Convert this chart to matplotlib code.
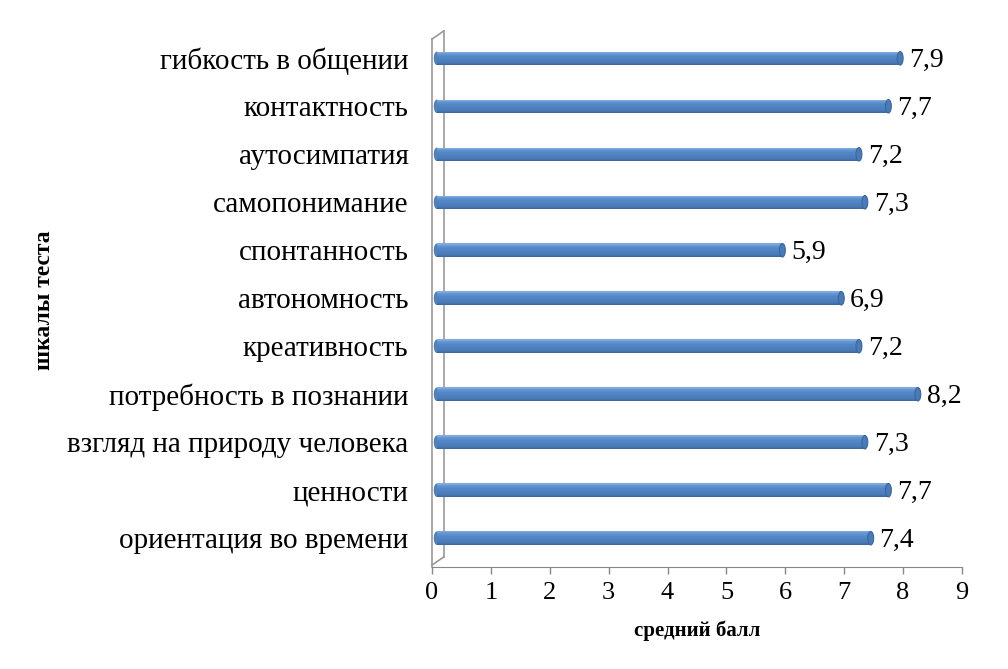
import matplotlib
matplotlib.use("Agg")
import matplotlib.pyplot as plt
import numpy as np
from matplotlib.patches import Ellipse
from matplotlib.colors import to_rgb

# ==============================
#  DONNÉES
# ==============================
categories = [
    "ориентация во времени",
    "ценности",
    "взгляд на природу человека",
    "потребность в познании",
    "креативность",
    "автономность",
    "спонтанность",
    "самопонимание",
    "аутосимпатия",
    "контактность",
    "гибкость в общении",
]
values = [7.4, 7.7, 7.3, 8.2, 7.2, 6.9, 5.9, 7.3, 7.2, 7.7, 7.9]
labels = ["7,4", "7,7", "7,3", "8,2", "7,2", "6,9", "5,9", "7,3", "7,2", "7,7", "7,9"]
x_ticks = list(range(0, 10))

plt.rcParams["font.family"] = ["Liberation Serif", "DejaVu Serif"]

W, H = 1008, 669
fig = plt.figure(figsize=(W / 100, H / 100), dpi=100)
ax = fig.add_axes([432 / W, 1 - 567 / H, (962 - 432) / W, (567 - 29.5) / H])

pos = np.arange(len(categories))
vals = np.array(values)
bh = 0.28
left = 0.08   # décalage de profondeur (effet 3D)
dy3 = 0.0

# cylindre : bandes horizontales en dégradé (bas foncé -> haut clair)
stops = [(0.0, "#3b6699"), (0.2, "#4a7bb8"), (0.6, "#5287c6"), (0.9, "#6d9bd5"), (1.0, "#8ab0de")]
n_b = 14
for i in range(n_b):
    t = (i + 0.5) / n_b
    for k in range(len(stops) - 1):
        if stops[k][0] <= t <= stops[k + 1][0]:
            a, b = stops[k], stops[k + 1]
            f = (t - a[0]) / (b[0] - a[0])
            c = tuple((1 - f) * np.array(to_rgb(a[1])) + f * np.array(to_rgb(b[1])))
            break
    yc = pos + dy3 - bh / 2 + (i + 0.5) * bh / n_b
    ax.barh(yc, vals - 0.03, left=left, height=bh / n_b * 1.1, color=c, lw=0, zorder=3)
for p, v in zip(pos, vals):
    ax.add_patch(Ellipse((left + v - 0.03, p + dy3), 0.1, bh, facecolor="#4a7bb8",
                         edgecolor="#3b6699", lw=0.8, zorder=6))
    ax.add_patch(Ellipse((left, p + dy3), 0.1, bh, facecolor="#4f81bd", lw=0, zorder=2))

for p, v, lab in zip(pos, vals, labels):
    ax.text(left + v + 0.12, p - 0.04, lab, va="center", ha="left", fontsize=20, color="black")

ax.set_xlim(0, 9)
ax.set_ylim(-0.6, 10.6)
ax.set_xticks(x_ticks)
ax.set_xticklabels([str(t) for t in x_ticks], fontsize=19)
ax.set_yticks(pos)
ax.set_yticklabels(categories, fontsize=21)
ax.tick_params(axis="y", length=0, pad=17)
ax.tick_params(axis="x", length=5, width=1, color="#888888", pad=6, direction="out")

for s in ["top", "right", "left"]:
    ax.spines[s].set_visible(False)
ax.spines["bottom"].set_color("#888888")

# paroi 3D à gauche
dx, dy = 0.2, 0.17
gris = "#999999"
kw = dict(color=gris, lw=1.2, clip_on=False, zorder=1)
ax.plot([0, 0], [-0.6, 10.4], **kw)
ax.plot([0, dx], [10.4, 10.4 + dy], **kw)
ax.plot([dx, dx], [10.4 + dy, -0.6 + 0.04 + dy], **kw)
ax.plot([0, dx], [-0.6 + 0.04, -0.6 + 0.04 + dy], **kw)

ax.set_xlabel("средний балл", fontsize=15, fontweight="bold", labelpad=12)
fig.text(45 / W, 1 - 300 / H, "шкалы теста", rotation=90, fontsize=17,
         fontweight="bold", ha="center", va="center")

fig.savefig("out.png", dpi=100)
